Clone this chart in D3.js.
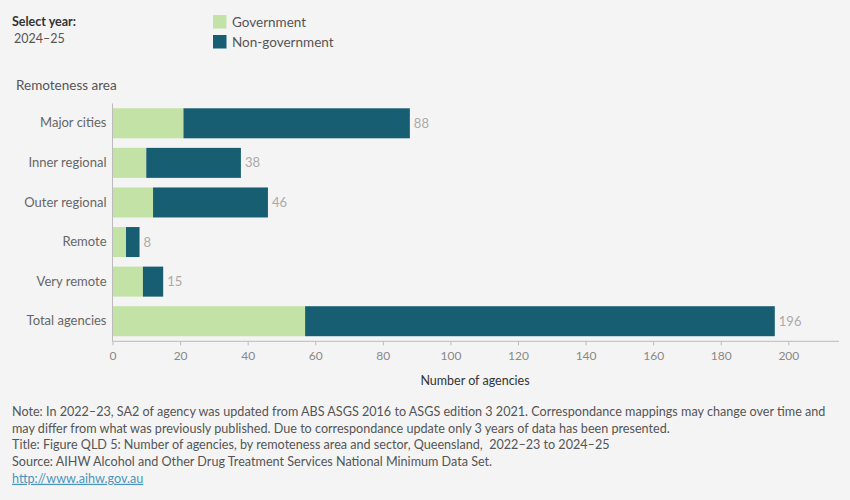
<!DOCTYPE html>
<html>
<head>
<meta charset="utf-8">
<script src="https://cdn.jsdelivr.net/npm/d3@7"></script>
<style>
  html, body { margin: 0; padding: 0; background: #f4f4f4; }
  svg { display: block; font-family: Lato, "Noto Sans", sans-serif; }
</style>
</head>
<body>
<div id="chart"></div>
<script>
const categories = ['Major cities', 'Inner regional', 'Outer regional', 'Remote', 'Very remote', 'Total agencies'];
const government    = [21, 10, 12, 4, 9, 57];
const nonGovernment = [67, 28, 34, 4, 6, 139];
const totals        = [88, 38, 46, 8, 15, 196];
const xTicks = [0, 20, 40, 60, 80, 100, 120, 140, 160, 180, 200];
const notes = [
    'Note: In 2022\u201323, SA2 of agency was updated from ABS ASGS 2016 to ASGS edition 3 2021. Correspondance mappings may change over time and',
    'may differ from what was previously published. Due to correspondance update only 3 years of data has been presented.',
    'Title: Figure QLD 5: Number of agencies, by remoteness area and sector, Queensland,  2022\u201323 to 2024\u201325',
    'Source: AIHW Alcohol and Other Drug Treatment Services National Minimum Data Set.'
];

const C_GOV    = '#c3e2a5';
const C_NONGOV = '#175e72';
const W = 850, H = 500;
const PLOT = { left: 112.5, right: 839, top: 103.5, bottom: 341.3 };

const rows = categories.map((c, i) => ({
    cat: c, government: government[i], nonGovernment: nonGovernment[i], total: totals[i]
}));

const svg = d3.select('#chart').append('svg')
    .attr('width', W).attr('height', H);

svg.append('rect').attr('width', W).attr('height', H).attr('fill', '#f4f4f4');

// header: year selector + legend
svg.append('text').attr('x', 12).attr('y', 26)
    .attr('fill', '#333').style('font-size', '12.5px').style('font-weight', 'bold')
    .text('Select year:');
svg.append('text').attr('x', 14).attr('y', 43)
    .attr('fill', '#555').style('font-size', '12.5px')
    .text('2024\u201325');

const legend = svg.append('g').attr('transform', 'translate(213,15)');
[['Government', C_GOV], ['Non-government', C_NONGOV]].forEach(([label, color], i) => {
    const lg = legend.append('g').attr('transform', `translate(0,${i * 20})`);
    lg.append('rect').attr('width', 13.5).attr('height', 13.5).attr('fill', color);
    lg.append('text').attr('x', 19).attr('y', 11.5)
        .attr('fill', '#555').style('font-size', '13.5px').text(label);
});

svg.append('text').attr('x', 16).attr('y', 90)
    .attr('fill', '#555').style('font-size', '13.5px')
    .text('Remoteness area');

// scales
const x = d3.scaleLinear().domain([0, 215]).range([PLOT.left, PLOT.right]);
const y = d3.scaleBand().domain(categories)
    .range([PLOT.top, PLOT.bottom - 0.3])
    .paddingInner(0.242).paddingOuter(0.121);

const stacked = d3.stack().keys(['government', 'nonGovernment'])(rows);
const colors = [C_GOV, C_NONGOV];

stacked.forEach((layer, li) => {
    svg.selectAll(`.bar-${li}`).data(layer).enter().append('rect')
        .attr('class', `bar-${li}`)
        .attr('x', d => x(d[0]))
        .attr('width', d => x(d[1]) - x(d[0]))
        .attr('y', d => y(d.data.cat))
        .attr('height', y.bandwidth())
        .attr('fill', colors[li]);
});

// value labels
svg.selectAll('.val').data(rows).enter().append('text')
    .attr('class', 'val')
    .attr('x', d => x(d.total) + 4)
    .attr('y', d => y(d.cat) + y.bandwidth() / 2)
    .attr('dy', '0.35em')
    .attr('fill', '#aaa').style('font-size', '13px')
    .text(d => d.total);

// category axis
const yAxis = svg.append('g').attr('transform', `translate(${PLOT.left},0)`)
    .call(d3.axisLeft(y).tickSize(0).tickPadding(6));
yAxis.select('.domain').remove();
yAxis.selectAll('.tick text')
    .attr('fill', '#666').style('font-size', '13px')
    .style('font-family', 'Lato, "Noto Sans", sans-serif');
svg.append('line')
    .attr('x1', PLOT.left).attr('x2', PLOT.left)
    .attr('y1', PLOT.top).attr('y2', PLOT.bottom)
    .attr('stroke', '#bbb');

// value axis
const xAxis = svg.append('g').attr('transform', `translate(0,${PLOT.bottom})`)
    .call(d3.axisBottom(x).tickValues(xTicks).tickSize(4).tickPadding(6));
xAxis.select('.domain').remove();
xAxis.selectAll('.tick line').attr('stroke', '#bbb');
xAxis.selectAll('.tick text')
    .attr('fill', '#888').style('font-size', '12px')
    .style('font-family', 'Lato, "Noto Sans", sans-serif');
svg.append('line')
    .attr('x1', PLOT.left).attr('x2', PLOT.right)
    .attr('y1', PLOT.bottom).attr('y2', PLOT.bottom)
    .attr('stroke', '#bbb');

svg.append('text').attr('x', 475).attr('y', 385)
    .attr('text-anchor', 'middle')
    .attr('fill', '#333').style('font-size', '12.5px')
    .text('Number of agencies');

// footnotes
notes.forEach((line, i) => {
    svg.append('text').attr('x', 12).attr('y', 416 + i * 16.7)
        .attr('fill', '#555').style('font-size', '12.6px')
        .style('white-space', 'pre')
        .text(line);
});
svg.append('text').attr('x', 12).attr('y', 416 + 4 * 16.7)
    .attr('fill', '#4a95bd').style('font-size', '12.6px')
    .style('text-decoration', 'underline')
    .text('http://www.aihw.gov.au');
</script>
</body>
</html>
